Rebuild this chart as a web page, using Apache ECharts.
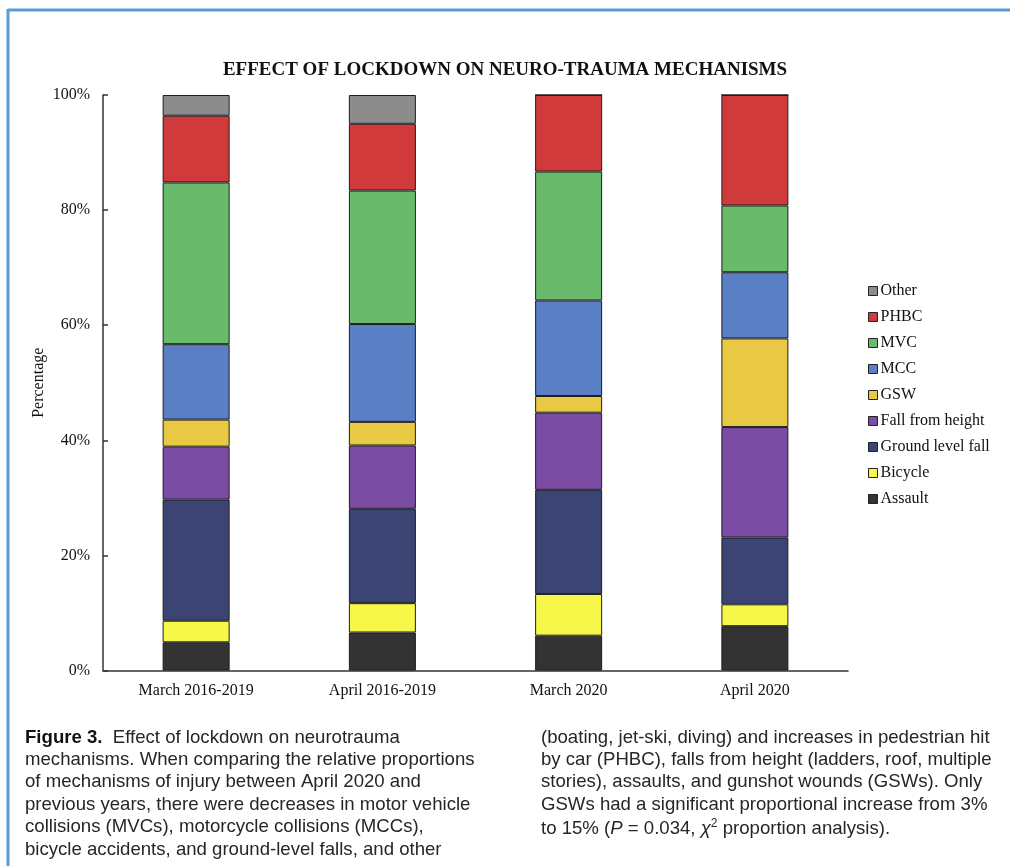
<!DOCTYPE html>
<html>
<head>
<meta charset="utf-8">
<script src="https://cdn.jsdelivr.net/npm/echarts@6/dist/echarts.min.js"></script>
<style>
html,body{margin:0;padding:0;background:#fff;}
#chart{width:1010px;height:866px;}
</style>
</head>
<body>
<div id="chart"></div>
<script>
var categories = ['March 2016-2019', 'April 2016-2019', 'March 2020', 'April 2020'];
var assault = [4.9, 6.6, 6.05, 7.7];
var bicycle = [3.75, 5.1, 7.25, 3.8];
var groundLevelFall = [21.05, 16.4, 18.1, 11.6];
var fallFromHeight = [9.2, 11.0, 13.4, 19.2];
var gsw = [4.7, 4.1, 2.9, 15.4];
var mcc = [13.1, 17.0, 16.6, 11.5];
var mvc = [28.1, 23.2, 22.4, 11.6];
var phbc = [11.6, 11.6, 13.3, 19.2];
var other = [3.6, 5.0, 0, 0];
var yTicks = [0, 20, 40, 60, 80, 100];

var seriesDefs = [
  ['Assault', assault, '#333333'],
  ['Bicycle', bicycle, '#f7f74a'],
  ['Ground level fall', groundLevelFall, '#3b4472'],
  ['Fall from height', fallFromHeight, '#7a4ca3'],
  ['GSW', gsw, '#e9c943'],
  ['MCC', mcc, '#5a7fc4'],
  ['MVC', mvc, '#6aba6b'],
  ['PHBC', phbc, '#d03a3a'],
  ['Other', other, '#8c8c8c']
];

var serif = '"Liberation Serif", "DejaVu Serif", serif';
var sans = '"Liberation Sans", Arial, sans-serif';

var series = seriesDefs.map(function (d) {
  return {
    name: d[0], type: 'bar', stack: 'total', barWidth: 67,
    data: d[1],
    itemStyle: { color: d[2], borderColor: '#1e1e1e', borderWidth: 1 },
    emphasis: { disabled: true }
  };
});

var leftLines = [
  '{b|Figure 3.}  Effect of lockdown on neurotrauma',
  'mechanisms. When comparing the relative proportions',
  'of mechanisms of injury between April 2020 and',
  'previous years, there were decreases in motor vehicle',
  'collisions (MVCs), motorcycle collisions (MCCs),',
  'bicycle accidents, and ground-level falls, and other'
];
var rightLines = [
  '(boating, jet-ski, diving) and increases in pedestrian hit',
  'by car (PHBC), falls from height (ladders, roof, multiple',
  'stories), assaults, and gunshot wounds (GSWs). Only',
  'GSWs had a significant proportional increase from 3%',
  'to 15% ({i|P} = 0.034, {i|χ}{sup|2} proportion analysis).'
];

var graphics = [
  { type: 'line', shape: { x1: 8, y1: 10, x2: 1010, y2: 10 }, style: { stroke: '#5b9bd5', lineWidth: 3 } },
  { type: 'line', shape: { x1: 8, y1: 9, x2: 8, y2: 866 }, style: { stroke: '#5b9bd5', lineWidth: 3 } }
];
var capFs = 18.6;
var capStyle = {
  fill: '#262626', fontSize: capFs, fontFamily: sans,
  rich: {
    b: { fontWeight: 'bold', fontSize: capFs, fontFamily: sans, fill: '#111' },
    i: { fontStyle: 'italic', fontSize: capFs, fontFamily: sans },
    sup: { fontSize: 12, fontFamily: sans, verticalAlign: 'top', lineHeight: 22 }
  }
};
leftLines.forEach(function (t, k) {
  graphics.push({ type: 'text', left: 25, top: 728 + k * 22.4,
    style: Object.assign({ text: t }, capStyle) });
});
rightLines.forEach(function (t, k) {
  graphics.push({ type: 'text', left: 541, top: 728 + k * 22.4,
    style: Object.assign({ text: t }, capStyle) });
});

var chart = echarts.init(document.getElementById('chart'), null, { renderer: 'canvas' });
chart.setOption({
  animation: false,
  backgroundColor: '#fff',
  title: {
    text: 'EFFECT OF LOCKDOWN ON NEURO-TRAUMA MECHANISMS',
    left: 'center', top: 56,
    textStyle: { fontFamily: serif, fontWeight: 'bold', fontSize: 19, color: '#111' }
  },
  legend: {
    orient: 'vertical', left: 863, top: 277,
    data: seriesDefs.map(function (d) { return d[0]; }).reverse(),
    icon: 'rect', itemWidth: 9, itemHeight: 9, itemGap: 8,
    selectedMode: false,
    textStyle: { fontFamily: serif, fontSize: 16, color: '#111', padding: [0, 0, 0, -2], lineHeight: 18 },
    itemStyle: { borderColor: '#222', borderWidth: 1 }
  },
  grid: { left: 103, right: 162, top: 95, bottom: 195.5, containLabel: false },
  xAxis: {
    type: 'category', data: categories,
    axisLine: { lineStyle: { color: '#333', width: 1.5 } },
    axisTick: { inside: true, length: 5, lineStyle: { color: '#333', width: 1.5 } },
    axisLabel: { fontFamily: serif, fontSize: 16, color: '#111', margin: 12 }
  },
  yAxis: {
    type: 'value', min: yTicks[0], max: yTicks[yTicks.length - 1], interval: 20,
    name: 'Percentage', nameLocation: 'middle', nameGap: 56, nameRotate: 90,
    nameMoveOverlap: false,
    nameTextStyle: { fontFamily: serif, fontSize: 16, color: '#111' },
    axisLine: { show: true, lineStyle: { color: '#333', width: 1.5 } },
    axisTick: { show: true, inside: true, length: 5, lineStyle: { color: '#333', width: 1.5 } },
    axisLabel: { fontFamily: serif, fontSize: 16, color: '#111', margin: 13, formatter: '{value}%' },
    splitLine: { show: false }
  },
  graphic: graphics,
  series: series
});
</script>
</body>
</html>
